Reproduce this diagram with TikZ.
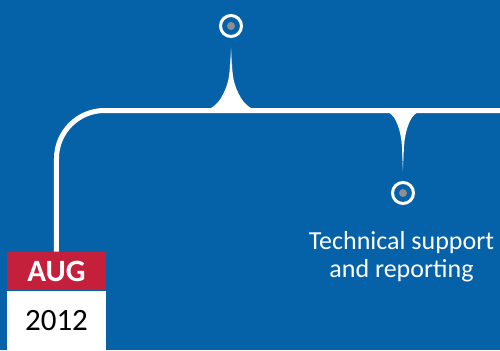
\documentclass[tikz,border=0pt]{standalone}
\usepackage{fontspec}
\setmainfont{Carlito}
\usepackage{tikz}
\usetikzlibrary{positioning}
\definecolor{tl-blue}{HTML}{0561A8}
\definecolor{tl-red}{HTML}{C41F3B}
\definecolor{tl-grey}{HTML}{8E8E8E}

\begin{document}
\begin{tikzpicture}[
    x=0.5pt, y=-0.5pt,
    timeline/.style={draw=white, line width=2.5pt, rounded corners=24pt},
    marker/.style={circle, draw=white, line width=1.5pt, fill=tl-blue, minimum size=10.5pt, inner sep=0pt,
        path picture={\fill[tl-grey] (path picture bounding box.center) circle (2pt);}},
    month/.style={fill=tl-red, text=white, font=\fontsize{15.5}{17}\selectfont\bfseries, minimum width=49.5pt, minimum height=19pt, inner sep=0pt},
    year/.style={fill=white, text=black, font=\fontsize{15.5}{18}\selectfont, minimum width=49.5pt, minimum height=30pt, inner sep=0pt},
    caption/.style={text=white, align=center, font=\fontsize{13}{14}\selectfont, inner sep=0pt}
]
    \fill[tl-blue] (0,0) rectangle (500,350);
    \useasboundingbox (0,0) rectangle (500,350);

    % calendar
    \node (month) [month] at (56.5,271) {AUG};
    \node (year) [year, below=0pt of month] {2012};

    % timeline
    \coordinate (line-end) at (500,110.5);
    \draw [timeline] (month.north) |- (line-end);

    % spike up
    \fill[white] (205,111) .. controls (213,108) and (218,103) .. (221,98)
        .. controls (224.5,92) and (227,86) .. (228.3,80)
        .. controls (229.3,75) and (229.8,70) .. (230,64)
        -- (232,64) .. controls (232.2,70) and (232.7,75) .. (233.7,80)
        .. controls (235,86) and (237.5,92) .. (241,98)
        .. controls (244,103) and (249,108) .. (257,111) -- cycle;
    \shade[top color=tl-blue, bottom color=white] (230,66) -- (230.6,46) -- (231.4,46) -- (232,66) -- cycle;

    % spike down
    \fill[white] (383,110) .. controls (390,112) and (393.5,116) .. (395.5,120)
        .. controls (398,125) and (399.5,130) .. (400.5,135)
        .. controls (401.5,140) and (402,145) .. (402.3,152)
        -- (403.7,152) .. controls (404,145) and (404.5,140) .. (405.5,135)
        .. controls (406.5,130) and (408,125) .. (410.5,120)
        .. controls (412.5,116) and (416,112) .. (423,110) -- cycle;
    \shade[top color=white, bottom color=tl-blue] (402.3,150) -- (402.7,172) -- (403.3,172) -- (403.7,150) -- cycle;

    \node (mark-top) [marker] at (231,26) {};
    \node (mark-bottom) [marker] at (403,193) {};
    \node (task) [caption] at (401.5,257) {Technical support\\and reporting};
\end{tikzpicture}
\end{document}
